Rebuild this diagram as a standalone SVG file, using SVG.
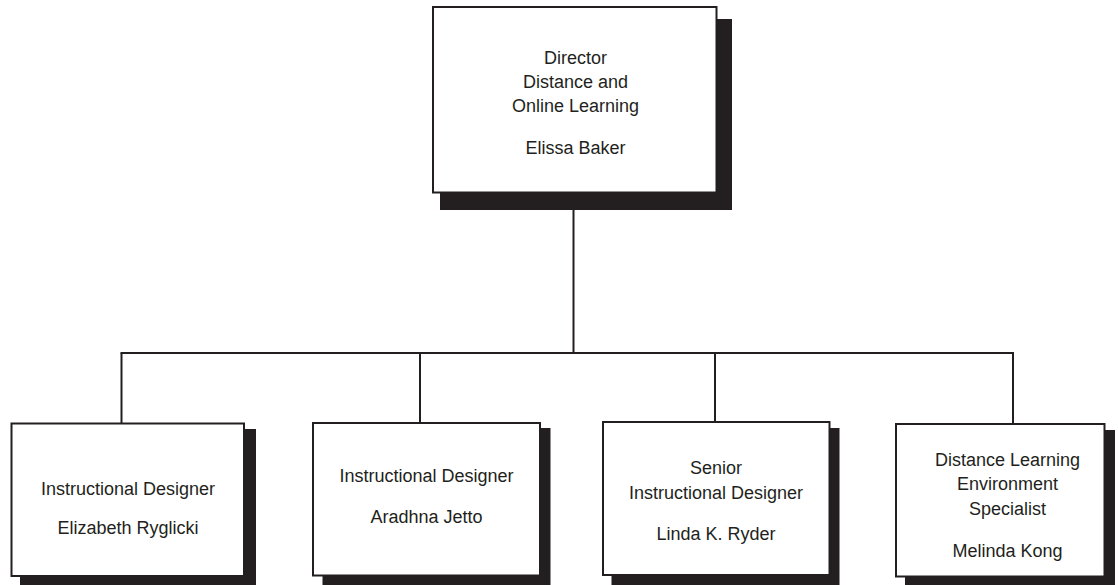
<svg xmlns="http://www.w3.org/2000/svg" width="1118" height="585" viewBox="0 0 1118 585">
<style>
.shadow{fill:#231f20;}
.box{fill:#fff;stroke:#231f20;stroke-width:2;}
.conn{stroke:#231f20;stroke-width:2;fill:none;}
text{font-family:"Liberation Sans",Arial,sans-serif;font-size:18px;fill:#231f20;text-anchor:middle;}
</style>
<rect width="1118" height="585" fill="#fff"/>
<g id="connectors">
<line class="conn" x1="573.5" y1="193" x2="573.5" y2="353"/>
<line class="conn" x1="120.5" y1="353" x2="1014" y2="353"/>
<line class="conn" x1="121.5" y1="353" x2="121.5" y2="423"/>
<line class="conn" x1="420" y1="353" x2="420" y2="422"/>
<line class="conn" x1="715" y1="353" x2="715" y2="421"/>
<line class="conn" x1="1013" y1="353" x2="1013" y2="423"/>
</g>
<g id="director">
<rect class="shadow" x="440" y="19" width="292" height="191"/>
<rect class="box" x="433" y="7" width="283.5" height="185.5"/>
<text x="575.5" y="63.5">Director</text>
<text x="575.5" y="87.5">Distance and</text>
<text x="575.5" y="111.5">Online Learning</text>
<text x="575.5" y="154">Elissa Baker</text>
</g>
<g id="ryglicki">
<rect class="shadow" x="20" y="429" width="236" height="156"/>
<rect class="box" x="11.5" y="423.5" width="232.5" height="152.5"/>
<text x="128" y="495">Instructional Designer</text>
<text x="128" y="534">Elizabeth Ryglicki</text>
</g>
<g id="jetto">
<rect class="shadow" x="322.5" y="428" width="228" height="157"/>
<rect class="box" x="313" y="423" width="227" height="152.5"/>
<text x="426.5" y="482">Instructional Designer</text>
<text x="426.5" y="523">Aradhna Jetto</text>
</g>
<g id="ryder">
<rect class="shadow" x="611.5" y="428" width="228" height="157"/>
<rect class="box" x="603" y="422" width="226.5" height="153"/>
<text x="716" y="474">Senior</text>
<text x="716" y="498.5">Instructional Designer</text>
<text x="716" y="539.5">Linda K. Ryder</text>
</g>
<g id="kong">
<rect class="shadow" x="905" y="430" width="210" height="155"/>
<rect class="box" x="896" y="424" width="208.5" height="152.5"/>
<text x="1007.5" y="466">Distance Learning</text>
<text x="1007.5" y="490">Environment</text>
<text x="1007.5" y="515">Specialist</text>
<text x="1007.5" y="557">Melinda Kong</text>
</g>
</svg>
